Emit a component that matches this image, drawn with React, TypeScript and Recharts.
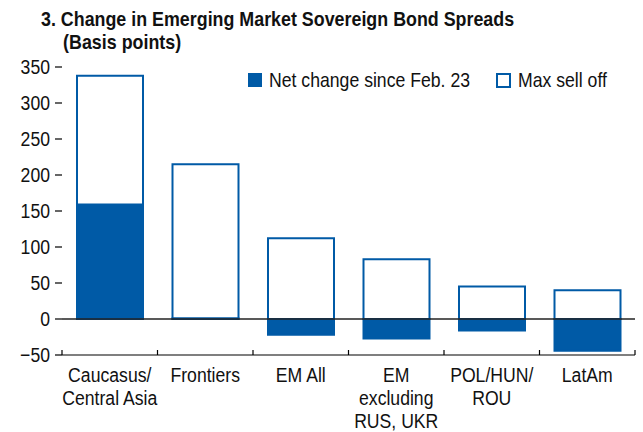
import * as React from "react";
import {
  BarChart,
  Bar,
  XAxis,
  YAxis,
  Legend,
  ReferenceLine,
} from "recharts";

const categories = [
  "Caucasus/\nCentral Asia",
  "Frontiers",
  "EM All",
  "EM\nexcluding\nRUS, UKR",
  "POL/HUN/\nROU",
  "LatAm",
];
const maxSellOff = [338, 215, 112, 83, 45, 40];
const netChange = [159, 1, -22, -27, -16, -44];
const yTicks = [-50, 0, 50, 100, 150, 200, 250, 300, 350];

const BLUE = "#005aa6";
// no condensed face is installed, so Liberation Sans is squeezed horizontally
const FONT = '"Liberation Sans", Arial, sans-serif';
const SQUEEZE = 0.84;

const CHART_W = 643;
const CHART_H = 432;
const LEFT_AXIS_W = 62;
const RIGHT_AXIS_W = 8;

const chartData = categories.map((name, i) => ({
  name,
  max: maxSellOff[i],
  net: netChange[i],
}));

// band width of the category axis, used for the between-category tick marks
const bandWidth = (CHART_W - LEFT_AXIS_W - RIGHT_AXIS_W) / categories.length;

function CategoryTick(props: any) {
  const { x, y, payload, index } = props;
  const lines = String(payload.value).split("\n");
  return (
    <g>
      <line x1={x - bandWidth / 2} x2={x - bandWidth / 2} y1={y - 5} y2={y} stroke="#000" strokeWidth={1.2} />
      {index === categories.length - 1 && (
        <line x1={x + bandWidth / 2} x2={x + bandWidth / 2} y1={y - 5} y2={y} stroke="#000" strokeWidth={1.2} />
      )}
      <g transform={`translate(${x},${y + 27}) scale(${SQUEEZE},1)`}>
        <text x={0} y={0} textAnchor="middle" fill="#111" fontSize={21} fontFamily={FONT}>
          {lines.map((l, i) => (
            <tspan key={i} x={0} dy={i === 0 ? 0 : 23}>
              {l}
            </tspan>
          ))}
        </text>
      </g>
    </g>
  );
}

function ValueTick(props: any) {
  const { x, y, payload } = props;
  return (
    <g transform={`translate(${x},${y}) scale(${SQUEEZE},1)`}>
      <text x={0} y={0} dy="0.355em" textAnchor="end" fill="#111" fontSize={21} fontFamily={FONT}>
        {String(payload.value).replace("-", "\u2212")}
      </text>
    </g>
  );
}

const squeezed = {
  display: "inline-block",
  transform: `scaleX(${SQUEEZE})`,
  transformOrigin: "left center",
} as const;

function LegendContent() {
  const item = {
    position: "absolute",
    top: 0,
    display: "flex",
    alignItems: "center",
    whiteSpace: "nowrap",
  } as const;
  return (
    <div style={{ position: "relative", height: 20, fontFamily: FONT, fontSize: 21, color: "#111" }}>
      <div style={{ ...item, left: 0 }}>
        <span style={{ width: 14, height: 14, background: BLUE, marginRight: 7 }} />
        <span style={squeezed}>Net change since Feb. 23</span>
      </div>
      <div style={{ ...item, left: 248 }}>
        <span style={{ width: 11, height: 11, border: `2px solid ${BLUE}`, background: "#fff", marginRight: 7 }} />
        <span style={squeezed}>Max sell off</span>
      </div>
    </div>
  );
}

export default function App() {
  return (
    <div style={{ position: "absolute", left: 0, top: 0, width: CHART_W, height: CHART_H, background: "#fff" }}>
      <div
        style={{
          position: "absolute",
          left: 41,
          top: 7,
          fontFamily: FONT,
          fontWeight: "bold",
          fontSize: 21,
          lineHeight: "23px",
          color: "#111",
          zIndex: 2,
          whiteSpace: "nowrap",
          transform: "scaleX(0.85)",
          transformOrigin: "left top",
        }}
      >
        <div>3. Change in Emerging Market Sovereign Bond Spreads</div>
        <div style={{ paddingLeft: 26 }}>(Basis points)</div>
      </div>
      <BarChart
        width={CHART_W}
        height={CHART_H}
        data={chartData}
        margin={{ top: 67, right: 0, bottom: 0, left: 0 }}
        barSize={66}
        barGap={-66}
      >
        <XAxis
          dataKey="name"
          height={77}
          interval={0}
          tickLine={false}
          tickSize={0}
          tickMargin={0}
          axisLine={{ stroke: "#000", strokeWidth: 1.2 }}
          tick={<CategoryTick />}
        />
        <YAxis
          yAxisId="left"
          width={LEFT_AXIS_W}
          domain={[-50, 350]}
          ticks={yTicks}
          axisLine={false}
          tickSize={7}
          tickMargin={5}
          tickLine={{ stroke: "#000", strokeWidth: 1.2 }}
          tick={<ValueTick />}
        />
        <YAxis
          yAxisId="right"
          orientation="right"
          width={RIGHT_AXIS_W}
          domain={[-50, 350]}
          ticks={yTicks}
          axisLine={false}
          tickSize={8}
          tick={false}
          tickLine={{ stroke: "#000", strokeWidth: 1.2 }}
        />
        <Legend
          layout="horizontal"
          verticalAlign="middle"
          align="center"
          wrapperStyle={{ top: 68, left: 248, width: 380 }}
          content={<LegendContent />}
        />
        <Bar yAxisId="left" dataKey="max" name="Max sell off" fill="#fff" stroke={BLUE} strokeWidth={2} isAnimationActive={false} />
        <Bar yAxisId="left" dataKey="net" name="Net change since Feb. 23" fill={BLUE} stroke={BLUE} strokeWidth={2} isAnimationActive={false} />
        <ReferenceLine yAxisId="left" y={0} stroke="#222" strokeWidth={1.5} />
      </BarChart>
    </div>
  );
}
